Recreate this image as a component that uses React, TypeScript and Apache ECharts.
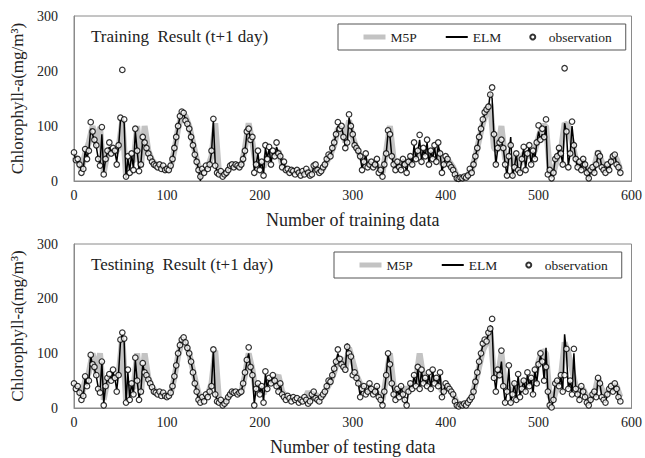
import React, { useEffect, useRef } from "react";
import * as echarts from "echarts";

// Observation / ELM sampled every 2 units, M5P every 4 units
const OBS_STEP = 2;
const M5P_STEP = 4;

const obsTrain = [
  52, 38, 40, 30, 15, 22, 58, 40, 55, 107,
  90, 75, 65, 40, 28, 98, 12, 40, 55, 70,
  50, 60, 55, 30, 65, 115, 202, 112, 8, 45,
  15, 50, 20, 95, 55, 18, 30, 80, 70, 60,
  50, 42, 35, 30, 28, 25, 30, 22, 28, 20,
  22, 20, 28, 40, 60, 80, 100, 118, 126, 124,
  110, 104, 95, 80, 65, 48, 35, 20, 8, 22,
  15, 28, 22, 30, 55, 113, 28, 15, 12, 18,
  8, 12, 15, 20, 28, 30, 25, 30, 28, 25,
  30, 40, 55, 90, 95, 75, 80, 15, 30, 55,
  20, 35, 10, 65, 40, 62, 30, 55, 45, 70,
  50, 45, 25, 35, 20, 22, 15, 20, 18, 12,
  20, 15, 10, 18, 12, 22, 15, 10, 12, 28,
  30, 20, 15, 18, 25, 30, 40, 48, 45, 60,
  70, 85, 107, 95, 100, 80, 60, 70, 121, 100,
  85, 65, 60, 55, 45, 20, 35, 50, 25, 30,
  35, 25, 30, 40, 15, 20, 8, 30, 50, 92,
  85, 45, 30, 20, 35, 25, 20, 40, 30, 15,
  35, 45, 30, 70, 40, 55, 84, 35, 60, 45,
  75, 30, 55, 40, 65, 35, 70, 50, 15, 30,
  45, 40, 30, 25, 20, 12, 5, 4, 6, 5,
  8, 6, 10, 22, 15, 30, 45, 60, 80, 95,
  112, 125, 130, 135, 157, 170, 85, 30, 60, 70,
  75, 60, 30, 10, 45, 65, 10, 25, 50, 20,
  15, 40, 62, 20, 50, 65, 30, 55, 40, 70,
  101, 75, 95, 80, 112, 12, 20, 5, 15, 40,
  45, 60, 50, 30, 205, 90, 25, 50, 108, 65,
  40, 25, 35, 20, 40, 30, 15, 5, 20, 25,
  15, 30, 50, 45, 25, 20, 15, 30, 20, 35,
  45, 48, 30, 25, 15,
];

const elmTrain = [
  50, 38, 38, 30, 18, 22, 55, 42, 55, 95,
  85, 72, 62, 42, 30, 85, 15, 40, 52, 62,
  52, 58, 52, 35, 62, 110, 115, 105, 5, 40,
  20, 48, 22, 90, 55, 20, 32, 75, 68, 58,
  50, 42, 36, 30, 28, 26, 28, 23, 26, 21,
  22, 21, 28, 40, 60, 80, 100, 116, 124, 122,
  112, 102, 95, 82, 65, 50, 35, 22, 0, 20,
  17, 27, 23, 30, 52, 110, 30, 16, 12, 16,
  10, 12, 15, 20, 27, 29, 26, 29, 28, 26,
  30, 40, 55, 85, 92, 78, 75, 20, 30, 50,
  22, 35, 12, 60, 42, 58, 32, 52, 45, 62,
  52, 45, 27, 33, 21, 21, 16, 19, 18, 13,
  19, 15, 11, 17, 13, 20, 15, 11, 12, 26,
  28, 20, 16, 18, 25, 30, 40, 47, 46, 58,
  70, 85, 100, 95, 98, 82, 62, 70, 115, 100,
  85, 65, 60, 55, 45, 22, 35, 48, 26, 30,
  34, 25, 30, 38, 17, 20, 10, 30, 50, 88,
  82, 45, 30, 22, 35, 25, 21, 40, 30, 17,
  35, 44, 30, 65, 40, 55, 75, 37, 58, 45,
  70, 32, 55, 40, 62, 36, 65, 50, 18, 30,
  44, 40, 30, 25, 20, 12, 5, 0, 5, 5,
  8, 6, 10, 20, 16, 30, 45, 60, 80, 95,
  110, 122, 128, 132, 160, 150, 80, 30, 58, 68,
  72, 60, 32, 10, 45, 80, 8, 25, 50, 20,
  15, 40, 60, 22, 50, 62, 30, 55, 40, 68,
  90, 75, 85, 78, 100, 12, 20, 5, 15, 40,
  45, 58, 50, 30, 105, 88, 28, 50, 100, 65,
  40, 25, 35, 20, 40, 30, 15, 3, 20, 25,
  15, 30, 48, 45, 25, 20, 15, 30, 20, 35,
  45, 48, 30, 25, 15,
];

const m5pTrain = [
  45, 38, 22, 50, 70, 100, 65, 98, 15, 50,
  55, 50, 60, 110, 10, 40, 35, 100, 25, 100,
  55, 38, 30, 28, 25, 22, 25, 55, 95, 122,
  118, 100, 70, 40, 15, 20, 25, 45, 105, 15,
  10, 15, 25, 28, 28, 28, 60, 105, 70, 25,
  35, 25, 50, 45, 50, 55, 30, 22, 18, 18,
  18, 15, 15, 18, 15, 25, 18, 22, 35, 48,
  65, 95, 95, 70, 110, 80, 60, 45, 35, 35,
  30, 30, 25, 15, 55, 100, 40, 30, 28, 35,
  35, 40, 45, 55, 50, 55, 50, 55, 55, 30,
  40, 35, 25, 10, 5, 6, 12, 20, 45, 75,
  105, 125, 140, 60, 55, 100, 40, 35, 30, 45,
  30, 50, 45, 50, 55, 80, 100, 100, 20, 15,
  40, 55, 105, 100, 70, 40, 30, 35, 20, 15,
  25, 55, 35, 25, 30, 45, 40, 20,
];

const obsTest = [
  45, 35, 40, 28, 15, 22, 58, 40, 50, 97,
  80, 75, 60, 35, 28, 85, 5, 40, 55, 62,
  50, 70, 55, 30, 60, 125, 138, 127, 10, 70,
  15, 45, 25, 92, 50, 15, 30, 82, 65, 60,
  52, 45, 38, 30, 28, 25, 30, 22, 28, 22,
  20, 22, 28, 40, 58, 78, 100, 115, 125, 129,
  120, 110, 100, 85, 65, 45, 30, 15, 10, 20,
  12, 25, 20, 30, 40, 107, 25, 12, 10, 15,
  5, 8, 12, 20, 25, 30, 28, 30, 25, 28,
  30, 45, 65, 88, 111, 75, 60, 5, 35, 45,
  25, 40, 10, 67, 35, 55, 45, 60, 50, 40,
  30, 45, 25, 20, 15, 22, 18, 12, 20, 15,
  18, 10, 15, 12, 20, 15, 8, 12, 25, 30,
  18, 15, 12, 20, 25, 30, 40, 50, 48, 60,
  72, 85, 107, 90, 80, 75, 70, 112, 100, 94,
  60, 65, 55, 45, 20, 35, 40, 25, 30, 45,
  35, 25, 30, 40, 20, 15, 5, 30, 60, 100,
  80, 45, 25, 15, 35, 20, 40, 25, 15, 5,
  30, 45, 35, 60, 40, 75, 35, 70, 45, 55,
  40, 65, 35, 70, 45, 55, 40, 65, 20, 30,
  45, 40, 35, 30, 25, 12, 5, 3, 6, 5,
  8, 5, 10, 15, 20, 30, 48, 65, 85, 100,
  118, 125, 122, 138, 145, 163, 55, 30, 70, 60,
  105, 40, 10, 30, 78, 10, 25, 45, 15, 62,
  20, 35, 50, 30, 65, 40, 55, 25, 70, 45,
  80, 100, 85, 50, 75, 30, 5, 1, 15, 45,
  50, 40, 60, 30, 60, 108, 35, 50, 25, 108,
  35, 25, 15, 40, 30, 20, 10, 5, 15, 25,
  30, 20, 55, 45, 20, 15, 10, 25, 35, 40,
  30, 45, 35, 20, 12,
];

const elmTest = [
  45, 36, 38, 28, 18, 22, 55, 40, 50, 95,
  78, 72, 58, 38, 30, 85, 8, 40, 52, 60,
  52, 65, 55, 32, 65, 120, 135, 120, 12, 65,
  18, 45, 25, 88, 50, 18, 32, 80, 64, 58,
  52, 45, 38, 31, 28, 26, 28, 23, 27, 22,
  21, 22, 28, 40, 58, 78, 98, 114, 124, 126,
  120, 110, 100, 85, 66, 46, 31, 17, 10, 20,
  14, 25, 21, 30, 42, 105, 26, 13, 10, 14,
  6, 9, 12, 20, 25, 29, 28, 29, 26, 28,
  30, 45, 62, 85, 100, 75, 62, 8, 35, 45,
  26, 40, 12, 62, 36, 55, 45, 58, 50, 40,
  30, 44, 25, 21, 16, 21, 18, 13, 19, 15,
  18, 11, 15, 13, 19, 15, 9, 12, 24, 30,
  19, 15, 13, 20, 25, 30, 40, 50, 48, 60,
  72, 85, 100, 88, 80, 76, 72, 118, 100, 92,
  62, 64, 55, 45, 22, 35, 40, 26, 30, 44,
  35, 25, 30, 40, 20, 15, 6, 30, 60, 97,
  80, 45, 25, 16, 35, 20, 40, 25, 15, 6,
  30, 45, 35, 60, 40, 72, 36, 68, 45, 55,
  40, 63, 36, 68, 45, 55, 40, 63, 20, 30,
  45, 40, 35, 30, 25, 12, 5, 2, 5, 5,
  8, 6, 10, 15, 20, 30, 48, 65, 85, 100,
  115, 122, 122, 135, 150, 148, 60, 32, 68, 58,
  85, 40, 10, 30, 72, 10, 25, 45, 15, 60,
  22, 35, 50, 30, 62, 40, 55, 25, 68, 45,
  80, 95, 85, 52, 110, 30, 5, 1, 15, 45,
  50, 40, 58, 30, 135, 100, 35, 50, 28, 100,
  35, 25, 16, 40, 30, 20, 10, 5, 15, 25,
  30, 20, 52, 45, 20, 15, 10, 25, 35, 40,
  30, 45, 35, 20, 12,
];

const m5pTest = [
  45, 38, 22, 50, 65, 100, 65, 100, 15, 50,
  55, 55, 60, 130, 15, 45, 35, 100, 25, 100,
  55, 38, 30, 28, 25, 22, 25, 55, 95, 122,
  118, 100, 70, 40, 15, 20, 25, 45, 105, 15,
  10, 15, 25, 28, 28, 28, 60, 100, 70, 25,
  35, 25, 50, 45, 50, 60, 30, 22, 18, 18,
  18, 15, 15, 30, 15, 25, 18, 22, 35, 48,
  65, 90, 90, 70, 110, 85, 60, 45, 35, 35,
  30, 30, 25, 15, 55, 100, 40, 30, 28, 35,
  35, 40, 50, 100, 55, 55, 50, 55, 55, 30,
  40, 35, 25, 10, 5, 6, 12, 20, 45, 75,
  105, 120, 140, 60, 55, 100, 40, 35, 30, 45,
  30, 50, 45, 50, 55, 85, 105, 100, 20, 15,
  40, 55, 120, 100, 70, 40, 30, 35, 20, 15,
  25, 55, 35, 25, 30, 45, 40, 20,
];

const panelTitles = ["Training  Result (t+1 day)", "Testining  Result (t+1 day)"];
const xAxisNames = ["Number of training data", "Number of testing data"];
const yAxisName = "Chlorophyll-a(mg/m³)";
const seriesNames = ["M5P", "ELM", "observation"];

const FONT = "'Liberation Serif', 'Times New Roman', serif";
const M5P_COLOR = "#c3c3c3";

const toPairs = (arr: number[], step: number) => arr.map((v, i) => [i * step, v]);

export default function App() {
  const ref = useRef<HTMLDivElement>(null);
  useEffect(() => {
    if (!ref.current) return;
    const chart = echarts.init(ref.current, undefined, { renderer: "svg" });
    const panels = [
      { obs: obsTrain, elm: elmTrain, m5p: m5pTrain, top: 16, height: 165, legendTop: 24, legendLeft: 338, titleTop: 28 },
      { obs: obsTest, elm: elmTest, m5p: m5pTest, top: 244, height: 164, legendTop: 252, legendLeft: 334, titleTop: 256 },
    ];
    const series: any[] = [];
    panels.forEach((p, i) => {
      series.push({
        name: seriesNames[0], type: "line", xAxisIndex: i, yAxisIndex: i,
        data: toPairs(p.m5p, M5P_STEP), symbol: "none",
        lineStyle: { color: M5P_COLOR, width: 6 }, itemStyle: { color: M5P_COLOR }, z: 1,
      });
      series.push({
        name: seriesNames[1], type: "line", xAxisIndex: i, yAxisIndex: i,
        data: toPairs(p.elm, OBS_STEP), symbol: "none",
        lineStyle: { color: "#000", width: 1.5 }, itemStyle: { color: "#000" }, z: 2,
      });
      series.push({
        name: seriesNames[2], type: "scatter", xAxisIndex: i, yAxisIndex: i,
        data: toPairs(p.obs, OBS_STEP), symbol: "circle", symbolSize: 5.5,
        itemStyle: { color: "#fff", borderColor: "#000", borderWidth: 1.2 }, z: 3,
      });
    });
    const legendData = [
      { name: seriesNames[0], itemStyle: { opacity: 0 }, lineStyle: { width: 5, color: M5P_COLOR } },
      { name: seriesNames[1], itemStyle: { opacity: 0 }, lineStyle: { width: 2, color: "#000" } },
      { name: seriesNames[2] },
    ];
    chart.setOption({
      animation: false,
      backgroundColor: "#fff",
      title: panels.map((p, i) => ({
        text: panelTitles[i], left: 91, top: p.titleTop, padding: 0,
        textStyle: { fontFamily: FONT, fontSize: 17, fontWeight: "normal", color: "#222" },
      })),
      legend: panels.map((p) => ({
        data: legendData, left: p.legendLeft, top: p.legendTop, orient: "horizontal",
        itemWidth: 22, itemHeight: 5, itemGap: 28, selectedMode: false,
        padding: [6, 14, 6, 23], borderColor: "#555", borderWidth: 1,
        textStyle: { fontFamily: FONT, fontSize: 13.5, color: "#222" },
      })),
      grid: panels.map((p) => ({
        left: 74, top: p.top, width: 558, height: p.height,
        show: true, borderColor: "#8a8a8a", borderWidth: 1, backgroundColor: "transparent",
      })),
      xAxis: panels.map((p, i) => ({
        type: "value", gridIndex: i, min: 0, max: 600, interval: 100,
        name: xAxisNames[i], nameLocation: "middle", nameGap: 30,
        nameTextStyle: { fontFamily: FONT, fontSize: 18, color: "#222" },
        axisLine: { show: true, lineStyle: { color: "#8a8a8a" } },
        axisTick: { show: false }, splitLine: { show: false },
        axisLabel: { fontFamily: FONT, fontSize: 14, color: "#222", margin: 7 },
      })),
      yAxis: panels.map((p, i) => ({
        type: "value", gridIndex: i, min: 0, max: 300, interval: 100,
        name: yAxisName, nameLocation: "middle", nameGap: 46,
        nameTextStyle: { fontFamily: FONT, fontSize: 17, color: "#222" },
        axisLine: { show: true, lineStyle: { color: "#8a8a8a" } },
        axisTick: { show: false }, splitLine: { show: false },
        axisLabel: { fontFamily: FONT, fontSize: 14, color: "#222", margin: 16 },
      })),
      series,
    });
    return () => chart.dispose();
  }, []);
  return (
    <div
      ref={ref}
      style={{ position: "fixed", left: 0, top: 0, width: 645, height: 458, background: "#fff" }}
    />
  );
}
